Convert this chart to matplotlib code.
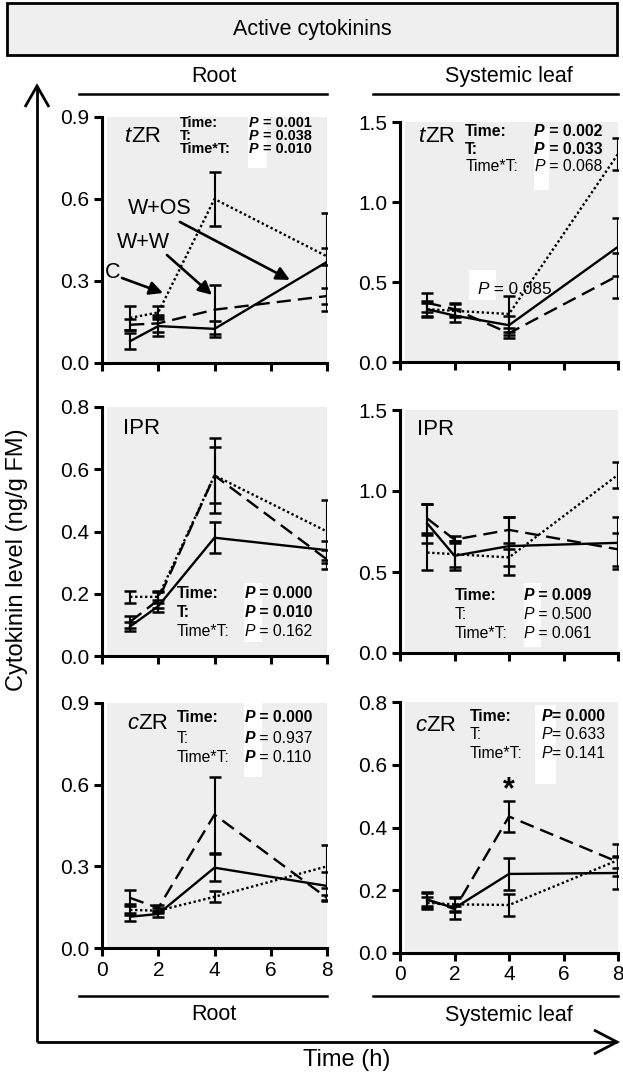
import matplotlib
matplotlib.use('Agg')
import matplotlib.pyplot as plt
from matplotlib.patches import Rectangle
from matplotlib.lines import Line2D

plt.rcParams['font.family'] = ['Liberation Sans', 'DejaVu Sans']

W, H = 623, 1072

times = [1, 2, 4, 8]
x_ticks = [0, 2, 4, 6, 8]

# ---- tZR, root
tzr_root_c = [0.165, 0.185, 0.60, 0.39]
tzr_root_c_err = [0.045, 0.025, 0.10, 0.03]
tzr_root_ww = [0.14, 0.145, 0.195, 0.245]
tzr_root_ww_err = [0.02, 0.03, 0.09, 0.03]
tzr_root_wos = [0.08, 0.135, 0.125, 0.37]
tzr_root_wos_err = [0.03, 0.035, 0.03, 0.18]
# ---- tZR, systemic leaf
tzr_leaf_c = [0.33, 0.32, 0.30, 1.30]
tzr_leaf_c_err = [0.04, 0.04, 0.11, 0.10]
tzr_leaf_ww = [0.37, 0.33, 0.18, 0.54]
tzr_leaf_ww_err = [0.06, 0.04, 0.03, 0.14]
tzr_leaf_wos = [0.33, 0.29, 0.23, 0.72]
tzr_leaf_wos_err = [0.05, 0.04, 0.06, 0.18]
# ---- IPR, root
ipr_root_c = [0.19, 0.19, 0.58, 0.40]
ipr_root_c_err = [0.02, 0.02, 0.09, 0.10]
ipr_root_ww = [0.11, 0.18, 0.58, 0.31]
ipr_root_ww_err = [0.02, 0.025, 0.12, 0.03]
ipr_root_wos = [0.095, 0.16, 0.38, 0.34]
ipr_root_wos_err = [0.015, 0.02, 0.05, 0.03]
# ---- IPR, systemic leaf
ipr_leaf_c = [0.62, 0.61, 0.59, 1.10]
ipr_leaf_c_err = [0.11, 0.08, 0.05, 0.08]
ipr_leaf_ww = [0.83, 0.70, 0.76, 0.64]
ipr_leaf_ww_err = [0.09, 0.02, 0.08, 0.10]
ipr_leaf_wos = [0.80, 0.60, 0.66, 0.68]
ipr_leaf_wos_err = [0.12, 0.09, 0.18, 0.16]
# ---- cZR, root
czr_root_c = [0.14, 0.137, 0.188, 0.30]
czr_root_c_err = [0.02, 0.01, 0.02, 0.08]
czr_root_ww = [0.184, 0.147, 0.49, 0.184]
czr_root_ww_err = [0.03, 0.01, 0.14, 0.01]
czr_root_wos = [0.115, 0.125, 0.295, 0.228]
czr_root_wos_err = [0.015, 0.01, 0.05, 0.05]
# ---- cZR, systemic leaf
czr_leaf_c = [0.16, 0.155, 0.153, 0.296]
czr_leaf_c_err = [0.02, 0.02, 0.036, 0.05]
czr_leaf_ww = [0.17, 0.14, 0.435, 0.29]
czr_leaf_ww_err = [0.02, 0.01, 0.05, 0.02]
czr_leaf_wos = [0.17, 0.143, 0.252, 0.255]
czr_leaf_wos_err = [0.025, 0.035, 0.05, 0.05]

# statistics text
stat_labels = ['Time:', 'T:', 'Time*T:']
tzr_root_p = ['0.001', '0.038', '0.010']
tzr_leaf_p = ['0.002', '0.033', '0.068']
ipr_root_p = ['0.000', '0.010', '0.162']
ipr_leaf_p = ['0.009', '0.500', '0.061']
czr_root_p = ['0.000', '0.937', '0.110']
czr_leaf_p = ['0.000', '0.633', '0.141']

GRAY = '#eeeeee'
LW = 1.7
FS_TICK = 15
FS_LAB = 16


def rect(x0, x1, ytop, ybot):
    return [x0 / W, 1 - ybot / H, (x1 - x0) / W, (ybot - ytop) / H]


def fx(x):
    return x / W


def fy(y):
    return 1 - y / H


fig = plt.figure(figsize=(W / 100, H / 100), dpi=100)

panels = [
    dict(r=rect(102, 327, 117, 363), ylim=0.9, yt=[0, 0.3, 0.6, 0.9],
         c=(tzr_root_c, tzr_root_c_err), ww=(tzr_root_ww, tzr_root_ww_err),
         wos=(tzr_root_wos, tzr_root_wos_err), lab=('t', 'ZR'), labpos=(0.82, 0.827),
         p=tzr_root_p, lb=[True, True, True], pb=['all', 'all', 'all'],
         lx=2.77, px=5.23, ys=[0.878, 0.83, 0.782], box=(5.2, 0.713, 0.67, 0.187),
         pfmt=' = ', xlab=False, fs=10.4),
    dict(r=rect(400, 618, 122, 362), ylim=1.5, yt=[0, 0.5, 1.0, 1.5],
         c=(tzr_leaf_c, tzr_leaf_c_err), ww=(tzr_leaf_ww, tzr_leaf_ww_err),
         wos=(tzr_leaf_wos, tzr_leaf_wos_err), lab=('t', 'ZR'), labpos=(0.7, 1.41),
         p=tzr_leaf_p, lb=[True, True, False], pb=['all', 'all', 'none'],
         lx=2.39, px=4.92, ys=[1.44, 1.33, 1.22], box=(4.92, 1.075, 0.55, 0.385),
         pfmt=' = ', xlab=False, fs=11.3),
    dict(r=rect(102, 327, 407, 656), ylim=0.8, yt=[0, 0.2, 0.4, 0.6, 0.8],
         c=(ipr_root_c, ipr_root_c_err), ww=(ipr_root_ww, ipr_root_ww_err),
         wos=(ipr_root_wos, ipr_root_wos_err), lab=('', 'IPR'), labpos=(0.75, 0.73),
         p=ipr_root_p, lb=[True, True, False], pb=['all', 'all', 'none'],
         lx=2.67, px=5.08, ys=[0.202, 0.141, 0.08], box=(5.05, 0.045, 0.64, 0.19),
         pfmt=' = ', xlab=False, fs=11.3),
    dict(r=rect(400, 618, 410, 653), ylim=1.5, yt=[0, 0.5, 1.0, 1.5],
         c=(ipr_leaf_c, ipr_leaf_c_err), ww=(ipr_leaf_ww, ipr_leaf_ww_err),
         wos=(ipr_leaf_wos, ipr_leaf_wos_err), lab=('', 'IPR'), labpos=(0.62, 1.377),
         p=ipr_leaf_p, lb=[True, False, False], pb=['all', 'none', 'none'],
         lx=2.02, px=4.55, ys=[0.352, 0.235, 0.123], box=(4.55, 0.037, 0.62, 0.393),
         pfmt=' = ', xlab=False, fs=11.3),
    dict(r=rect(102, 327, 703, 948), ylim=0.9, yt=[0, 0.3, 0.6, 0.9],
         c=(czr_root_c, czr_root_c_err), ww=(czr_root_ww, czr_root_ww_err),
         wos=(czr_root_wos, czr_root_wos_err), lab=('c', 'ZR'), labpos=(0.89, 0.826),
         p=czr_root_p, lb=[True, False, False], pb=['all', 'p', 'p'],
         lx=2.67, px=5.08, ys=[0.845, 0.771, 0.70], box=(5.05, 0.628, 0.64, 0.272),
         pfmt=' = ', xlab=True, fs=11.3),
    dict(r=rect(400, 618, 702, 953), ylim=0.8, yt=[0, 0.2, 0.4, 0.6, 0.8],
         c=(czr_leaf_c, czr_leaf_c_err), ww=(czr_leaf_ww, czr_leaf_ww_err),
         wos=(czr_leaf_wos, czr_leaf_wos_err), lab=('c', 'ZR'), labpos=(0.55, 0.724),
         p=czr_leaf_p, lb=[True, False, False], pb=['all', 'none', 'none'],
         lx=2.57, px=5.21, ys=[0.755, 0.695, 0.637], box=(4.96, 0.54, 0.76, 0.25),
         pfmt='= ', xlab=True, fs=11.3),
]

axes = []
for P in panels:
    ax = fig.add_axes(P['r'])
    axes.append(ax)
    ax.set_facecolor('white')
    ax.add_patch(Rectangle((0.022, 0), 0.978, 1, transform=ax.transAxes,
                           facecolor=GRAY, edgecolor='none', zorder=0))
    ax.set_xlim(0, 8)
    ax.set_ylim(0, P['ylim'])
    ax.set_xticks(x_ticks)
    ax.set_yticks(P['yt'])
    ax.set_yticklabels([f'{v:.1f}' for v in P['yt']])
    if P['xlab']:
        ax.set_xticklabels([str(v) for v in x_ticks])
    else:
        ax.set_xticklabels([])
    for s in ['top', 'right']:
        ax.spines[s].set_visible(False)
    for s in ['left', 'bottom']:
        ax.spines[s].set_linewidth(2.2)
    ax.tick_params(direction='out', length=6, width=2.2, labelsize=FS_TICK, pad=3)

    for (vals, err), ls in [(P['c'], (0, (1, 1.1))), (P['ww'], (0, (6, 3))), (P['wos'], '-')]:
        ax.errorbar(times, vals, yerr=err, color='k', lw=LW, ls=ls,
                    capsize=4.5, capthick=1.8, elinewidth=1.5, zorder=3)

    # white box behind P column
    bx, by, bw, bh = P['box']
    ax.add_patch(Rectangle((bx, by), bw, bh, facecolor='white', edgecolor='none', zorder=1))

    # stats text
    fs = P['fs']
    for i in range(3):
        y = P['ys'][i]
        ax.text(P['lx'], y, stat_labels[i], fontsize=fs,
                fontweight='bold' if P['lb'][i] else 'normal', va='center', ha='left', zorder=5)
        mode = P['pb'][i]
        ax.text(P['px'], y, 'P', fontsize=fs, fontstyle='italic',
                fontweight='bold' if mode in ('all', 'p') else 'normal',
                va='center', ha='left', zorder=5)
        ax.annotate(P['pfmt'] + P['p'][i], xy=(P['px'], y), xytext=(0.667 * fs, 0),
                    textcoords='offset points', fontsize=fs,
                    fontweight='bold' if mode == 'all' else 'normal',
                    va='center', ha='left', zorder=5)

    # panel label
    lx, ly = P['labpos']
    it, rest = P['lab']
    if it:
        ax.text(lx, ly, it, fontsize=FS_LAB, fontstyle='italic', va='center', ha='left')
        ax.annotate(rest, xy=(lx, ly), xytext=(0.5 * FS_LAB if it == 'c' else 0.3 * FS_LAB, 0),
                    textcoords='offset points', fontsize=FS_LAB, va='center', ha='left')
    else:
        ax.text(lx, ly, rest, fontsize=FS_LAB, va='center', ha='left')

# labelled arrows in first panel
ax0 = axes[0]
arrow_kw = dict(arrowstyle='-|>', color='k', lw=1.9, mutation_scale=20,
                shrinkA=0, shrinkB=0)
ax0.text(2.06, 0.567, 'W+OS', fontsize=15.5, ha='center', va='center')
ax0.annotate('', xy=(6.68, 0.304), xytext=(2.77, 0.516), arrowprops=arrow_kw)
ax0.text(1.46, 0.44, 'W+W', fontsize=15.5, ha='center', va='center')
ax0.annotate('', xy=(3.91, 0.249), xytext=(2.31, 0.395), arrowprops=arrow_kw)
ax0.text(0.39, 0.33, 'C', fontsize=15.5, ha='center', va='center')
ax0.annotate('', xy=(2.17, 0.256), xytext=(0.71, 0.311), arrowprops=arrow_kw)

# P = 0.085 note in tZR leaf panel
ax1 = axes[1]
ax1.add_patch(Rectangle((2.53, 0.39), 0.99, 0.185, facecolor='white', edgecolor='none', zorder=1))
ax1.text(2.86, 0.456, 'P', fontsize=12.3, fontstyle='italic', va='center', ha='left', zorder=5)
ax1.annotate(' = 0.085', xy=(2.86, 0.456), xytext=(0.667 * 12.3, 0),
             textcoords='offset points', fontsize=12.3, va='center', ha='left', zorder=5)

# asterisk in cZR leaf panel
axes[5].text(4, 0.52, '*', fontsize=22, fontweight='bold', ha='center', va='center')

# header box
fig.add_artist(Rectangle((fx(7), fy(55)), 610 / W, 52 / H, transform=fig.transFigure,
                         facecolor='#efefef', edgecolor='k', lw=2))
fig.text(fx(312), fy(29), 'Active cytokinins', fontsize=15.5, ha='center', va='center')

# section labels and lines
for (x0, x1, xc, name) in [(79, 327, 214, 'Root'), (373, 618, 509, 'Systemic leaf')]:
    fig.add_artist(Line2D([fx(x0), fx(x1)], [fy(94), fy(94)], color='k', lw=1.8,
                          transform=fig.transFigure))
    fig.text(fx(xc), fy(77), name, fontsize=15.5, ha='center', va='center')
    fig.add_artist(Line2D([fx(x0), fx(x1)], [fy(996), fy(996)], color='k', lw=1.8,
                          transform=fig.transFigure))
    fig.text(fx(xc), fy(1015), name, fontsize=15.5, ha='center', va='center')

# big axis arrows
def fline(xs, ys, lw=2):
    fig.add_artist(Line2D([fx(x) for x in xs], [fy(y) for y in ys], color='k', lw=lw,
                          transform=fig.transFigure, solid_capstyle='butt',
                          solid_joinstyle='miter'))

fline([37, 37], [1042, 86])
fline([37, 617], [1042, 1042])
fline([25, 37, 49], [107, 86, 107])
fline([594, 617, 594], [1030, 1042, 1054])

fig.text(fx(17), fy(560), 'Cytokinin level (ng/g FM)', fontsize=17, rotation=90,
         ha='center', va='center')
fig.text(fx(347), fy(1060), 'Time (h)', fontsize=17, ha='center', va='center')

fig.savefig('out.png', dpi=100)
